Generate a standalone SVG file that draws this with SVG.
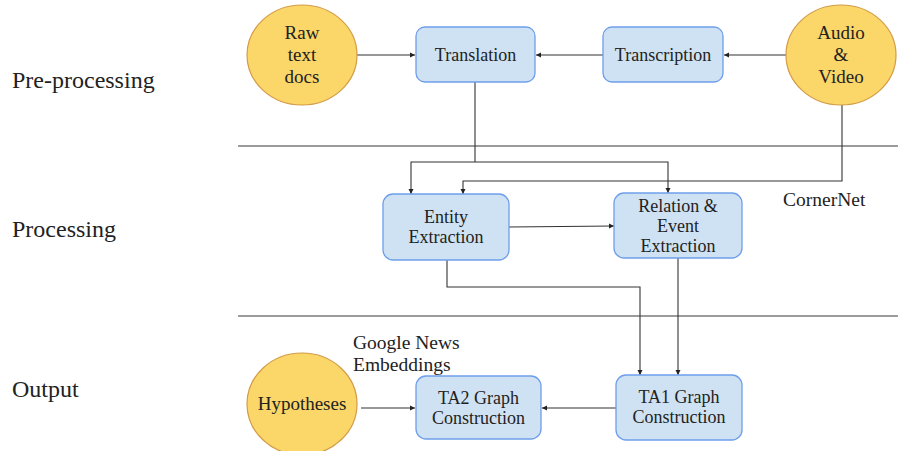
<svg xmlns="http://www.w3.org/2000/svg" width="898" height="451" viewBox="0 0 898 451">
<style>
  text { font-family: "Liberation Serif", "Times New Roman", serif; fill: #222; }
  .lbl { font-size: 24px; }
  .note { font-size: 19.5px; }
  .ctext { font-size: 19px; text-anchor: middle; }
  .btext { font-size: 18px; text-anchor: middle; }
  .circ { fill: #fbd668; stroke: #d39b46; stroke-width: 1.2; }
  .box { fill: #cfe2f3; stroke: #6d9eeb; stroke-width: 1.3; }
  .sep { stroke: #7a7a7a; stroke-width: 1.5; fill: none; }
  .conn { stroke: #333; stroke-width: 1.1; fill: none; marker-end: url(#arr); }
  .seg { stroke: #333; stroke-width: 1.1; fill: none; }
</style>
<defs>
  <marker id="arr" markerUnits="userSpaceOnUse" markerWidth="8" markerHeight="8" refX="5" refY="3" orient="auto">
    <path d="M0,0.5 L5,3 L0,5.5 Z" fill="#222"/>
  </marker>
</defs>
<rect width="898" height="451" fill="#ffffff"/>

<g id="labels">
  <text class="lbl" x="12" y="88">Pre-processing</text>
  <text class="lbl" x="12" y="237">Processing</text>
  <text class="lbl" x="12" y="397">Output</text>
  <text class="note" x="783" y="206">CornerNet</text>
  <text class="note" x="353" y="349">Google News</text>
  <text class="note" x="353" y="371">Embeddings</text>
</g>

<g id="separators">
  <line class="sep" x1="238" y1="146" x2="898" y2="146"/>
  <line class="sep" x1="238" y1="316" x2="898" y2="316"/>
</g>

<g id="connectors">
  <line class="conn" x1="357" y1="55" x2="415" y2="55"/>
  <line class="conn" x1="603" y1="55" x2="536" y2="55"/>
  <line class="conn" x1="786" y1="55" x2="724" y2="55"/>
  <polyline class="seg" points="475,82 475,162"/>
  <polyline class="conn" points="475,162 411,162 411,194"/>
  <polyline class="conn" points="475,162 668,162 668,193"/>
  <polyline class="conn" points="842,104 842,181 463,181 463,194"/>
  <line class="conn" x1="509" y1="227" x2="614" y2="226"/>
  <polyline class="conn" points="447,260 447,287 640,287 640,375"/>
  <line class="conn" x1="678" y1="258" x2="678" y2="375"/>
  <line class="conn" x1="616" y1="408" x2="542" y2="408"/>
  <line class="conn" x1="361" y1="408" x2="415" y2="408"/>
</g>

<g id="raw-text-docs">
  <ellipse class="circ" cx="302" cy="55" rx="55" ry="50"/>
  <text class="ctext" x="302" y="39">Raw</text>
  <text class="ctext" x="302" y="61">text</text>
  <text class="ctext" x="302" y="83">docs</text>
</g>

<g id="translation">
  <rect class="box" x="416" y="27" width="119" height="55" rx="9"/>
  <text class="btext" x="475.5" y="61">Translation</text>
</g>

<g id="transcription">
  <rect class="box" x="603" y="27" width="120" height="55" rx="9"/>
  <text class="btext" x="663" y="61">Transcription</text>
</g>

<g id="audio-video">
  <ellipse class="circ" cx="841" cy="55" rx="55" ry="50"/>
  <text class="ctext" x="841" y="39">Audio</text>
  <text class="ctext" x="841" y="61">&amp;</text>
  <text class="ctext" x="841" y="83">Video</text>
</g>

<g id="entity-extraction">
  <rect class="box" x="383" y="194" width="126" height="66" rx="10"/>
  <text class="btext" x="446" y="223">Entity</text>
  <text class="btext" x="446" y="243">Extraction</text>
</g>

<g id="relation-event-extraction">
  <rect class="box" x="614" y="193" width="128" height="65" rx="10"/>
  <text class="btext" x="678" y="212">Relation &amp;</text>
  <text class="btext" x="678" y="232">Event</text>
  <text class="btext" x="678" y="252">Extraction</text>
</g>

<g id="hypotheses">
  <ellipse class="circ" cx="302" cy="404" rx="55" ry="51"/>
  <text class="ctext" x="302" y="410">Hypotheses</text>
</g>

<g id="ta2-graph">
  <rect class="box" x="416" y="376" width="125" height="63" rx="10"/>
  <text class="btext" x="478.5" y="404">TA2 Graph</text>
  <text class="btext" x="478.5" y="424">Construction</text>
</g>

<g id="ta1-graph">
  <rect class="box" x="616" y="375" width="126" height="65" rx="10"/>
  <text class="btext" x="679" y="403">TA1 Graph</text>
  <text class="btext" x="679" y="423">Construction</text>
</g>
</svg>
